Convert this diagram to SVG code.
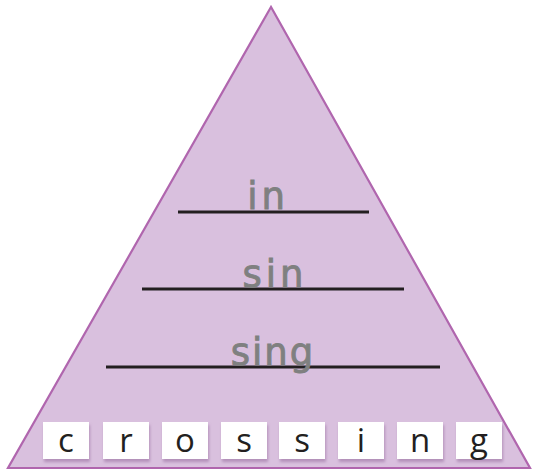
<svg xmlns="http://www.w3.org/2000/svg" width="539" height="470" viewBox="0 0 539 470">
<style>
.tri{fill:#d9c0de;stroke:#b066ae;stroke-width:2.2;stroke-linejoin:miter}
.line{stroke:#231f20;stroke-width:3}
.hw{font-family:"DejaVu Sans","Noto Sans",sans-serif;font-size:37px;fill:#7f8080;stroke:#7f8080;stroke-width:0.9;text-anchor:middle}
.box{fill:#ffffff}
.lt{font-family:"Open Sans","Noto Sans",sans-serif;font-size:33px;fill:#231f20;text-anchor:middle}
</style>
<defs>
<filter id="sh" x="-20%" y="-20%" width="140%" height="150%">
<feDropShadow dx="1" dy="3" stdDeviation="1.5" flood-color="#9a6fa0" flood-opacity="0.6"/>
</filter>
</defs>
<g id="pyramid">
<polygon class="tri" points="271,7 8,468 530,468"/>
</g>
<g id="connectors">
<line class="line" x1="178" y1="212" x2="369" y2="212"/>
<line class="line" x1="142" y1="289" x2="404" y2="289"/>
<line class="line" x1="106" y1="367" x2="440" y2="367"/>
</g>
<g id="word-in"><text class="hw" x="268" y="209" letter-spacing="4">in</text></g>
<g id="word-sin"><text class="hw" x="275" y="287" letter-spacing="4">sin</text></g>
<g id="word-sing"><text class="hw" x="273" y="365" letter-spacing="2">sing</text></g>
<g id="letters">
<g id="l1"><rect class="box" filter="url(#sh)" x="43" y="422" width="46" height="37"/><text class="lt" x="66" y="452">c</text></g>
<g id="l2"><rect class="box" filter="url(#sh)" x="103" y="422" width="46" height="37"/><text class="lt" x="126" y="452">r</text></g>
<g id="l3"><rect class="box" filter="url(#sh)" x="162" y="422" width="46" height="37"/><text class="lt" x="185" y="452">o</text></g>
<g id="l4"><rect class="box" filter="url(#sh)" x="221" y="422" width="46" height="37"/><text class="lt" x="244" y="452">s</text></g>
<g id="l5"><rect class="box" filter="url(#sh)" x="279" y="422" width="46" height="37"/><text class="lt" x="302" y="452">s</text></g>
<g id="l6"><rect class="box" filter="url(#sh)" x="338" y="422" width="46" height="37"/><text class="lt" x="361" y="452">i</text></g>
<g id="l7"><rect class="box" filter="url(#sh)" x="397" y="422" width="46" height="37"/><text class="lt" x="420" y="452">n</text></g>
<g id="l8"><rect class="box" filter="url(#sh)" x="456" y="422" width="46" height="37"/><text class="lt" x="479" y="452">g</text></g>
</g>
</svg>
